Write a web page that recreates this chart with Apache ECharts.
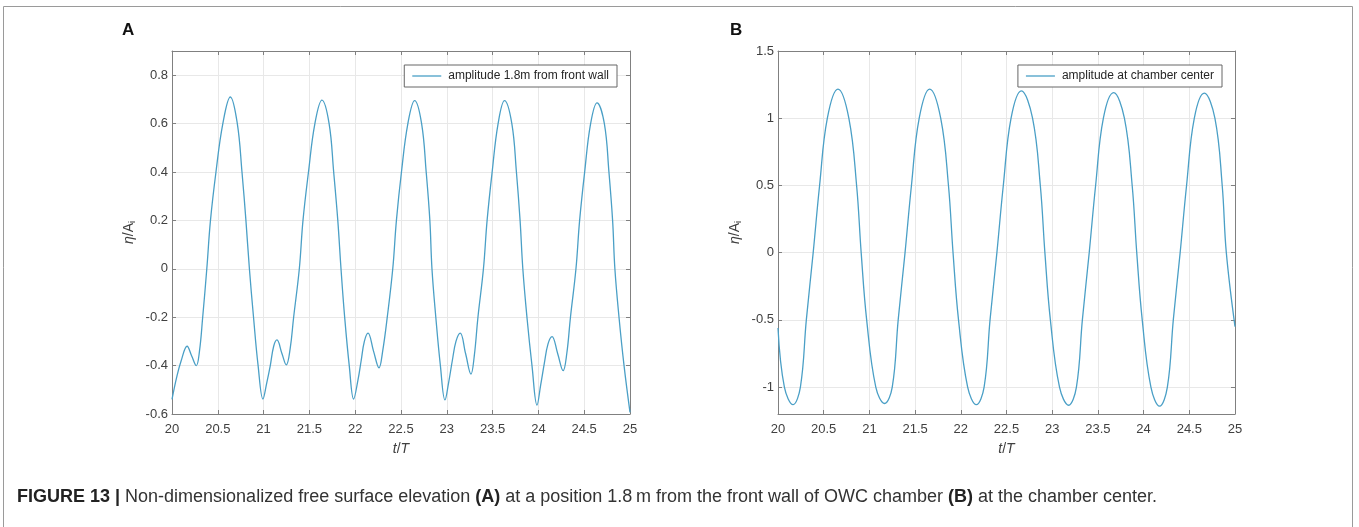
<!DOCTYPE html>
<html>
<head>
<meta charset="utf-8">
<script src="https://cdn.jsdelivr.net/npm/echarts@6/dist/echarts.min.js"></script>
<style>
  html, body { margin: 0; padding: 0; background: #fff; }
  #fig { width: 1359px; height: 527px; }
</style>
</head>
<body>
<div id="fig"></div>
<script>
// panel A: 1.8 m from the front wall (t/T, eta/Ai)
var tA = [20.00, 20.05, 20.10, 20.165, 20.215, 20.265, 20.30, 20.335, 20.38, 20.42, 20.48, 20.555, 20.637, 20.713, 20.764, 20.807, 20.845, 20.89, 20.94, 20.993,
          21.035, 21.073, 21.11, 21.146, 21.20, 21.248, 21.29, 21.328, 21.39, 21.43, 21.49, 21.56, 21.637, 21.715, 21.765, 21.81, 21.845, 21.885, 21.935, 21.983,
          22.03, 22.065, 22.10, 22.14, 22.20, 22.26, 22.30, 22.35, 22.41, 22.45, 22.505, 22.575, 22.649, 22.725, 22.775, 22.815, 22.838, 22.88, 22.93, 22.98,
          23.02, 23.06, 23.10, 23.147, 23.205, 23.264, 23.30, 23.34, 23.40, 23.44, 23.495, 23.56, 23.63, 23.71, 23.76, 23.80, 23.83, 23.875, 23.93, 23.985,
          24.025, 24.065, 24.105, 24.149, 24.21, 24.27, 24.31, 24.35, 24.41, 24.45, 24.505, 24.57, 24.64, 24.72, 24.77, 24.81, 24.835, 24.88, 24.935, 25.00];
var etaA = [-0.54, -0.45, -0.38, -0.32, -0.36, -0.40, -0.34, -0.20, 0.00, 0.20, 0.40, 0.60, 0.71, 0.60, 0.40, 0.20, 0.00, -0.20, -0.40, -0.538,
            -0.47, -0.40, -0.32, -0.294, -0.35, -0.397, -0.33, -0.20, 0.00, 0.20, 0.40, 0.60, 0.697, 0.60, 0.40, 0.20, 0.00, -0.20, -0.40, -0.538,
            -0.46, -0.38, -0.30, -0.266, -0.34, -0.409, -0.34, -0.20, 0.00, 0.20, 0.40, 0.60, 0.695, 0.60, 0.40, 0.20, 0.00, -0.20, -0.40, -0.542,
            -0.47, -0.38, -0.30, -0.266, -0.35, -0.435, -0.36, -0.20, 0.00, 0.20, 0.40, 0.60, 0.695, 0.60, 0.40, 0.20, 0.00, -0.20, -0.40, -0.563,
            -0.48, -0.39, -0.31, -0.28, -0.35, -0.421, -0.35, -0.20, 0.00, 0.20, 0.40, 0.60, 0.686, 0.60, 0.40, 0.20, 0.00, -0.20, -0.40, -0.593];

// panel B: chamber center
var tB = [20.00, 20.07, 20.165, 20.245, 20.31, 20.385, 20.455, 20.54, 20.656, 20.775, 20.86, 20.91, 20.97, 21.07,
          21.166, 21.25, 21.315, 21.39, 21.46, 21.545, 21.659, 21.78, 21.865, 21.915, 21.975, 22.075,
          22.17, 22.255, 22.32, 22.395, 22.465, 22.55, 22.662, 22.785, 22.87, 22.92, 22.98, 23.08,
          23.18, 23.265, 23.33, 23.405, 23.475, 23.56, 23.672, 23.79, 23.875, 23.925, 23.985, 24.08,
          24.175, 24.26, 24.325, 24.40, 24.47, 24.555, 24.664, 24.78, 24.86, 24.905, 25.00];
var etaB = [-0.56, -1.00, -1.13, -1.00, -0.50, 0.00, 0.50, 1.00, 1.216, 1.00, 0.50, 0.00, -0.50, -1.00,
            -1.122, -1.00, -0.50, 0.00, 0.50, 1.00, 1.216, 1.00, 0.50, 0.00, -0.50, -1.00,
            -1.13, -1.00, -0.50, 0.00, 0.50, 1.00, 1.203, 1.00, 0.50, 0.00, -0.50, -1.00,
            -1.135, -1.00, -0.50, 0.00, 0.50, 1.00, 1.19, 1.00, 0.50, 0.00, -0.50, -1.00,
            -1.142, -1.00, -0.50, 0.00, 0.50, 1.00, 1.186, 1.00, 0.50, 0.00, -0.55];

var nameA = 'amplitude 1.8m from front wall';
var nameB = 'amplitude at chamber center';
var caption = 'Non-dimensionalized free surface elevation ';

var chart = echarts.init(document.getElementById('fig'));

var FONT = 'Liberation Sans, Arial, sans-serif';
var axisGray = '#808080';
var labelCol = '#404040';
var lineCol = '#4a9fc6';

function pairs(t, v) {
  return t.map(function (x, i) { return [x, v[i]]; });
}

// bottom / left axes carry labels, top / right only give the box and ticks
function xAx(gi, top) {
  return {
    type: 'value', gridIndex: gi, min: 20, max: 25, interval: 0.5,
    position: top ? 'top' : 'bottom',
    name: top ? '' : '{i|t}/{i|T}',
    nameLocation: 'middle', nameGap: 28,
    nameTextStyle: { color: labelCol, fontFamily: FONT, fontSize: 14, rich: { i: { fontStyle: 'italic', fontSize: 14, color: labelCol, fontFamily: FONT } } },
    axisLine: { show: true, onZero: false, lineStyle: { color: axisGray, width: 1 } },
    axisTick: { show: true, inside: true, length: 4, lineStyle: { color: axisGray } },
    axisLabel: { show: !top, margin: 9, color: labelCol, fontSize: 13, fontFamily: FONT },
    splitLine: { show: !top, lineStyle: { color: '#e8e8e8', width: 1 } }
  };
}
function yAx(gi, right, min, max, interval) {
  var o = {
    type: 'value', gridIndex: gi, min: min, max: max,
    position: right ? 'right' : 'left',
    name: right ? '' : '{e|η}/A{s|i}',
    nameLocation: 'middle', nameGap: 35,
    nameTextStyle: { color: labelCol, fontFamily: FONT, fontSize: 14,
      rich: { e: { fontStyle: 'italic', fontSize: 14, color: labelCol, fontFamily: FONT },
              s: { fontSize: 9, color: labelCol, fontFamily: FONT, verticalAlign: 'bottom', padding: [6, 0, 0, 0] } } },
    axisLine: { show: true, onZero: false, lineStyle: { color: axisGray, width: 1 } },
    axisTick: { show: true, inside: true, length: 4, lineStyle: { color: axisGray } },
    axisLabel: { show: !right, margin: 4, color: labelCol, fontSize: 13, fontFamily: FONT, showMinLabel: min !== -1.2, showMaxLabel: max !== 0.9 },
    splitLine: { show: !right, lineStyle: { color: '#e8e8e8', width: 1 } }
  };
  if (interval) o.interval = interval;
  return o;
}

function legendFor(name, right) {
  return {
    data: [name], right: right, top: 65, orient: 'horizontal',
    icon: 'rect', itemWidth: 29, itemHeight: 1.3, itemGap: 4,
    padding: [5, 8, 5, 8], borderColor: '#666', borderWidth: 1, backgroundColor: '#fff',
    textStyle: { fontFamily: FONT, fontSize: 12, color: '#262626', padding: [0, 0, 0, 2] }
  };
}

var option = {
  backgroundColor: '#fff',
  animation: false,
  title: [
    { text: 'A', left: 117, top: 17, textStyle: { fontFamily: FONT, fontWeight: 'bold', fontSize: 17, color: '#111' } },
    { text: 'B', left: 725, top: 17, textStyle: { fontFamily: FONT, fontWeight: 'bold', fontSize: 17, color: '#111' } },
    {
      text: '{b|FIGURE 13 |} ' + caption + '{b|(A)} at a position 1.8\u2009m from the front wall of OWC chamber {b|(B)} at the chamber center.',
      left: 12, top: 483,
      textStyle: {
        fontFamily: FONT, fontSize: 18, fontWeight: 'normal', color: '#333',
        rich: { b: { fontFamily: FONT, fontSize: 18, fontWeight: 'bold', color: '#222' } }
      }
    }
  ],
  legend: [legendFor(nameA, 742), legendFor(nameB, 137)],
  grid: [
    { left: 172, top: 51, width: 458, height: 363 },
    { left: 778, top: 51, width: 457, height: 363 }
  ],
  xAxis: [xAx(0, false), xAx(0, true), xAx(1, false), xAx(1, true)],
  yAxis: [yAx(0, false, -0.6, 0.9, 0.2), yAx(0, true, -0.6, 0.9, 0.2),
          yAx(1, false, -1.2, 1.5, null), yAx(1, true, -1.2, 1.5, null)],
  series: [
    { name: nameA, type: 'line', xAxisIndex: 0, yAxisIndex: 0, data: pairs(tA, etaA),
      symbol: 'none', smooth: 0.4, lineStyle: { color: lineCol, width: 1.3 }, itemStyle: { color: lineCol } },
    { name: nameB, type: 'line', xAxisIndex: 2, yAxisIndex: 2, data: pairs(tB, etaB),
      symbol: 'none', smooth: 0.4, lineStyle: { color: lineCol, width: 1.3 }, itemStyle: { color: lineCol } }
  ],
  graphic: [
    { type: 'rect', silent: true, shape: { x: 3.5, y: 6.5, width: 1349, height: 530 },
      style: { fill: 'none', stroke: '#9a9a9a', lineWidth: 1 } }
  ]
};

chart.setOption(option);
</script>
</body>
</html>
